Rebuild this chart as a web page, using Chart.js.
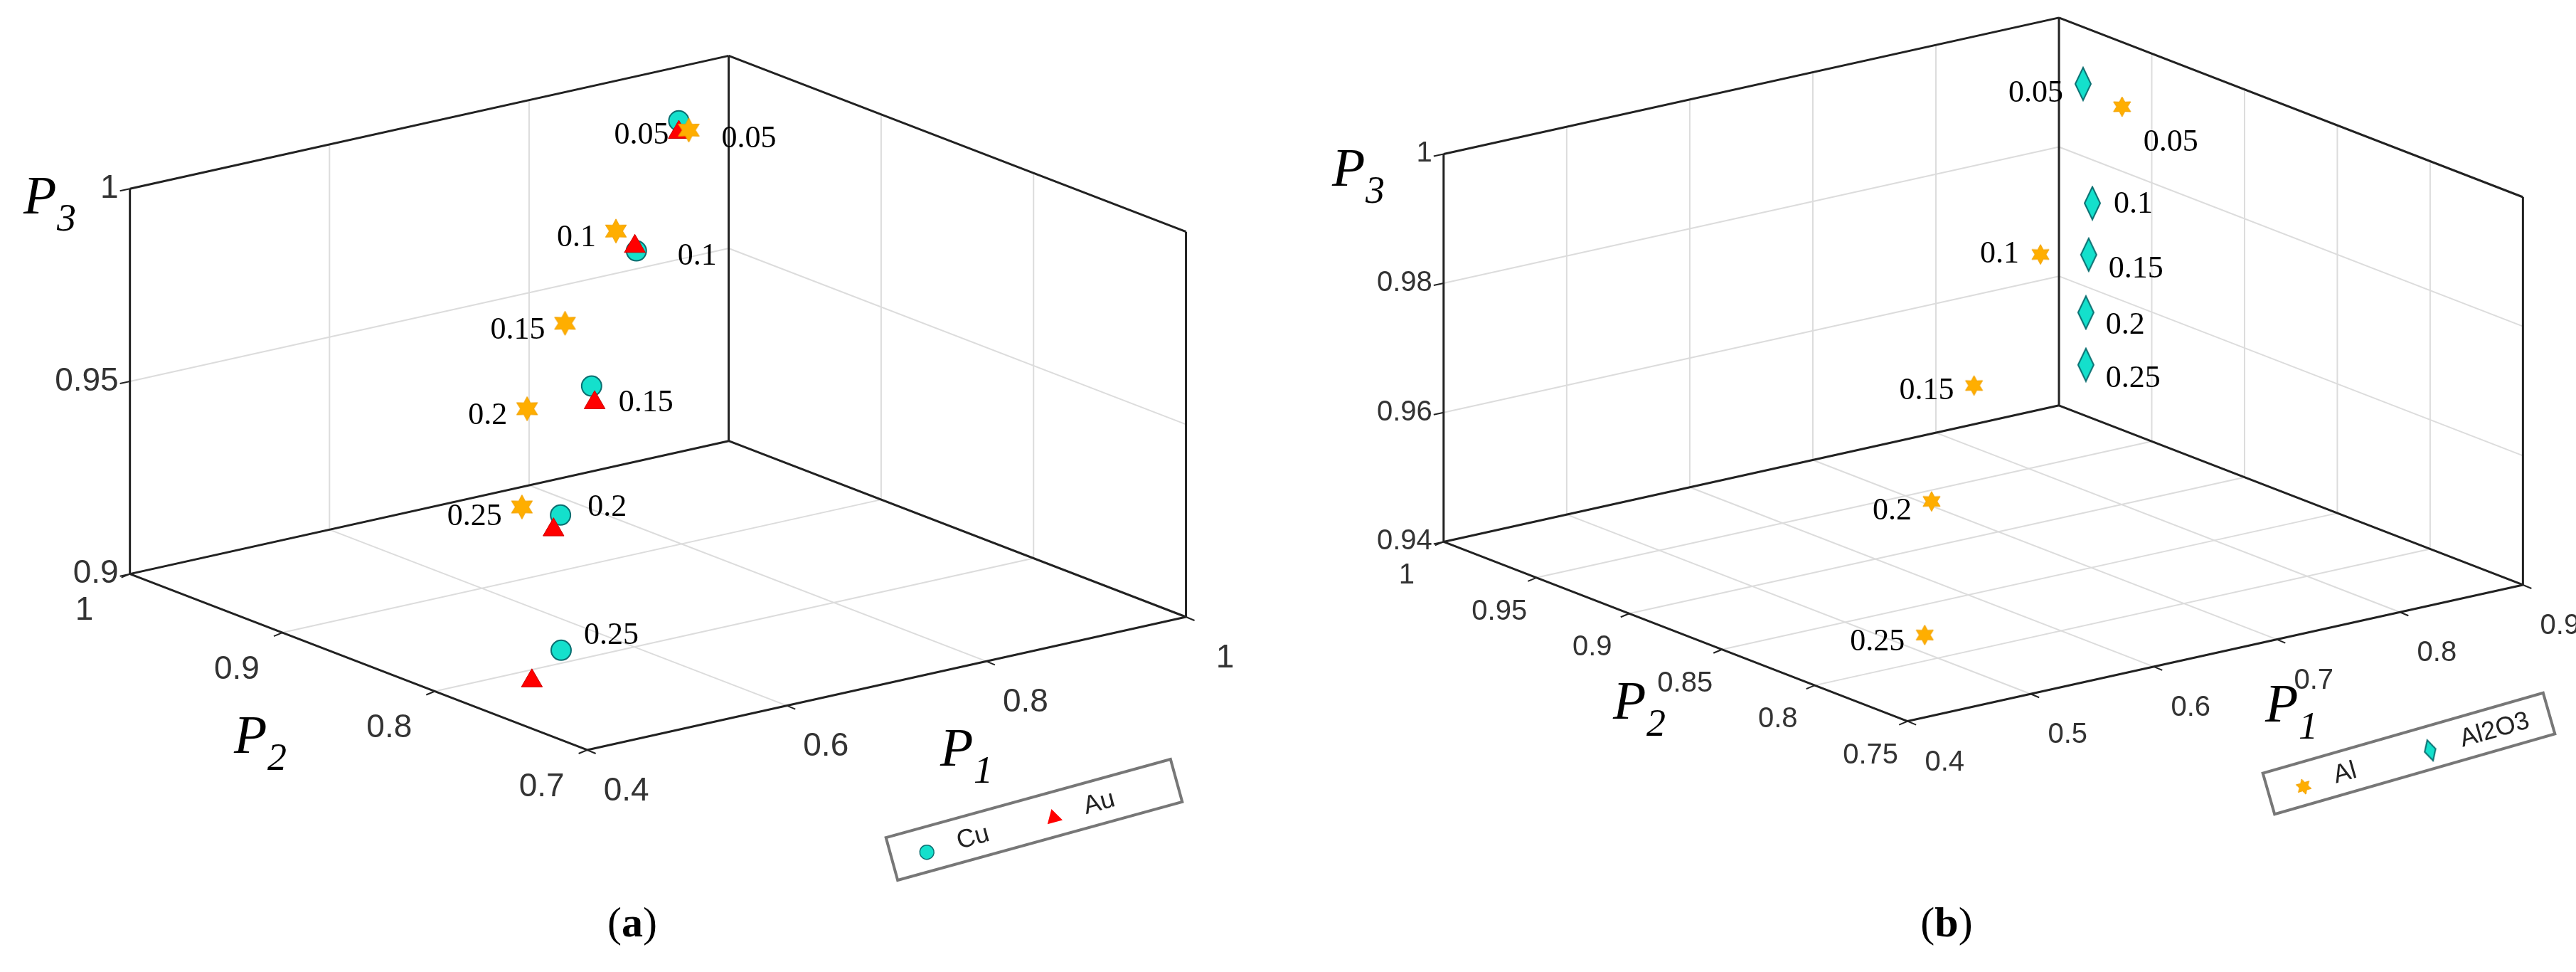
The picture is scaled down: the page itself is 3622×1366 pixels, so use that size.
<!DOCTYPE html>
<html><head><meta charset="utf-8">
<script src="https://cdn.jsdelivr.net/npm/chart.js@4"></script>
<style>html,body{margin:0;background:#fff;}#wrap{position:relative;width:3622px;height:1366px;}
canvas{position:absolute;top:0;}</style></head>
<body><div id="wrap"><canvas id="ca" width="1811" height="1366" style="left:0"></canvas><canvas id="cb" width="1811" height="1366" style="left:1811px"></canvas></div>
<script>
// ---- data: panel (a) ----
const phiLabels = ['0.05','0.1','0.15','0.2','0.25'];
const cuP1 = [0.95,0.88,0.80,0.72,0.548];
const cuP2 = [1.0,0.982,0.959,0.927,0.814];
const cuP3 = [0.986,0.959,0.932,0.908,0.900];
const auP1 = [0.95,0.88,0.80,0.742,0.479];
const auP2 = [1.0,0.983,0.957,0.946,0.788];
const auP3 = [0.983,0.960,0.928,0.900,0.900];
const stA_P1 = [0.96,0.887,0.836,0.798,0.747];
const stA_P2 = [1.0,1.0,1.0,1.0,0.97];
const stA_P3 = [0.983,0.961,0.940,0.920,0.902];
// ---- data: panel (b) ----
const alP1 = [0.9,0.885,0.831,0.706,0.524];
const alP2 = [0.966,1.0,1.0,0.940,0.823];
const alP3 = [0.990,0.964,0.946,0.940,0.940];
const aloP1 = [0.9,0.9,0.9,0.9,0.9];
const aloP2 = [0.987,0.982,0.984,0.9855,0.9855];
const aloP3 = [0.9912,0.9733,0.9651,0.956,0.9479];
// ticks
const aP1Ticks=[0.4,0.6,0.8,1], aP2Ticks=[0.7,0.8,0.9,1], aP3Ticks=[0.9,0.95,1];
const bP1Ticks=[0.4,0.5,0.6,0.7,0.8,0.9], bP2Ticks=[0.75,0.8,0.85,0.9,0.95,1], bP3Ticks=[0.94,0.96,0.98,1];

const geomA={O:[824,1064],r1:[0.4,1],r2:[0.7,1],r3:[0.9,1],v1:[859,-192],v2:[-656,-254],v3:[0,-556],
  p1o:[55,58],p2o:[-64,52],tickFont:'46px "Liberation Sans Narrow", "Liberation Sans"',
  t3:[58,280],t2:[354,1038],t1:[1347,1056],cap:[889,1300],capL:'a',
  leg:{c:[1454,1152],ang:-15.4,w:415,h:62,items:['Cu','Au']}};
const geomB={O:[2682-1811,1016],r1:[0.4,0.9],r2:[0.75,1],r3:[0.94,1],v1:[870,-193],v2:[-656,-254],v3:[0,-549],
  p1o:[52,58],p2o:[-52,48],tickFont:'40px "Liberation Sans Narrow", "Liberation Sans"',
  t3:[1898-1811,241],t2:[2293-1811,990],t1:[3210-1811,994],cap:[2737-1811,1300],capL:'b',
  leg:{c:[3387-1811,1059],ang:-16,w:410,h:60,items:['Al','Al2O3']}};

function proj(g,p1,p2,p3){
  const a=(p1-g.r1[0])/(g.r1[1]-g.r1[0]), b=(p2-g.r2[0])/(g.r2[1]-g.r2[0]), c=(p3-g.r3[0])/(g.r3[1]-g.r3[0]);
  return {x:g.O[0]+a*g.v1[0]+b*g.v2[0]+c*g.v3[0], y:g.O[1]+a*g.v1[1]+b*g.v2[1]+c*g.v3[1]};
}
function pts(g,A,B,C){return A.map((v,i)=>proj(g,v,B[i],C[i]));}

function starImg(r){const c=document.createElement('canvas');c.width=c.height=2*r+4;const x=c.getContext('2d');
  x.translate(r+2,r+2);x.beginPath();for(let i=0;i<12;i++){const rr=i%2?r*0.55:r;const an=-Math.PI/2+i*Math.PI/6;
  x.lineTo(rr*Math.cos(an),rr*Math.sin(an));}x.closePath();x.fillStyle='#ffae00';x.fill();x.strokeStyle='#f0a000';x.lineWidth=1;x.stroke();return c;}
function diamImg(w,h){const c=document.createElement('canvas');c.width=w+4;c.height=h+4;const x=c.getContext('2d');
  x.beginPath();x.moveTo(w/2+2,2);x.lineTo(w+2,h/2+2);x.lineTo(w/2+2,h+2);x.lineTo(2,h/2+2);x.closePath();
  x.fillStyle='#14e0cc';x.fill();x.strokeStyle='#0a6e70';x.lineWidth=2;x.stroke();return c;}
const starA=starImg(17), starB=starImg(14), diam=diamImg(22,46);

const box3d={id:'box3d',
 beforeDatasetsDraw(chart){
  const g=chart.options.plugins.box3d.g, ctx=chart.ctx, sx=chart.scales.x, sy=chart.scales.y;
  const P=(a,b,c)=>{const p=proj(g,a,b,c);return [sx.getPixelForValue(p.x),sy.getPixelForValue(p.y)];};
  const L=(p,q,col,w)=>{ctx.beginPath();ctx.moveTo(p[0],p[1]);ctx.lineTo(q[0],q[1]);ctx.strokeStyle=col;ctx.lineWidth=w;ctx.stroke();};
  const [a0,a1]=g.r1,[b0,b1]=g.r2,[c0,c1]=g.r3, t=g.ticks, grid='#dcdcdc';
  ctx.save();
  t.p1.forEach(v=>L(P(v,b0,c0),P(v,b1,c0),grid,2));
  t.p2.forEach(v=>L(P(a0,v,c0),P(a1,v,c0),grid,2));
  t.p1.forEach(v=>L(P(v,b1,c0),P(v,b1,c1),grid,2));
  t.p3.forEach(v=>L(P(a0,b1,v),P(a1,b1,v),grid,2));
  t.p2.forEach(v=>L(P(a1,v,c0),P(a1,v,c1),grid,2));
  t.p3.forEach(v=>L(P(a1,b0,v),P(a1,b1,v),grid,2));
  const k='#222';
  L(P(a0,b0,c0),P(a1,b0,c0),k,3);L(P(a0,b0,c0),P(a0,b1,c0),k,3);
  L(P(a0,b1,c0),P(a1,b1,c0),k,3);L(P(a1,b0,c0),P(a1,b1,c0),k,3);
  L(P(a0,b1,c0),P(a0,b1,c1),k,3);L(P(a1,b1,c0),P(a1,b1,c1),k,3);L(P(a1,b0,c0),P(a1,b0,c1),k,3);
  L(P(a0,b1,c1),P(a1,b1,c1),k,3);L(P(a1,b1,c1),P(a1,b0,c1),k,3);
  ctx.fillStyle='#333';ctx.font=g.tickFont;ctx.textBaseline='middle';
  ctx.textAlign='right';t.p3.forEach(v=>{const p=P(a0,b1,v);L(p,[p[0]-14,p[1]+3],k,2);ctx.fillText(String(v),p[0]-16,p[1]);});
  ctx.textAlign='center';
  t.p2.forEach(v=>{const p=P(a0,v,c0);L(p,[p[0]-12,p[1]+5],k,2);ctx.fillText(String(v),p[0]+g.p2o[0],p[1]+g.p2o[1]);});
  t.p1.forEach(v=>{const p=P(v,b0,c0);L(p,[p[0]+12,p[1]+5],k,2);ctx.fillText(String(v),p[0]+g.p1o[0],p[1]+g.p1o[1]);});
  ctx.fillStyle='#000';
  const title=(pos,sub)=>{ctx.textAlign='left';ctx.font='italic 76px "Liberation Serif"';ctx.fillText('P',pos[0]-25,pos[1]);
    ctx.font='italic 54px "Liberation Serif"';ctx.fillText(sub,pos[0]+22,pos[1]+30);};
  title(g.t3,'3');title(g.t2,'2');title(g.t1,'1');
  // caption "(a)"
  ctx.font='bold 60px "Liberation Serif"';const wl=ctx.measureText(g.capL).width;
  ctx.font='60px "Liberation Serif"';const wp=ctx.measureText('(').width;
  const x0=g.cap[0]-(wl+2*wp)/2;ctx.textAlign='left';
  ctx.fillText('(',x0,g.cap[1]);ctx.fillText(')',x0+wp+wl,g.cap[1]);
  ctx.font='bold 60px "Liberation Serif"';ctx.fillText(g.capL,x0+wp,g.cap[1]);
  ctx.restore();
 },
 afterDatasetsDraw(chart){
  const o=chart.options.plugins.box3d, g=o.g, ctx=chart.ctx, sx=chart.scales.x, sy=chart.scales.y;
  ctx.save();ctx.fillStyle='#000';ctx.font='44px "Liberation Serif"';ctx.textBaseline='middle';
  o.labels.forEach(s=>{s.pp.forEach((p,i)=>{const dx=Array.isArray(s.dx)?s.dx[i]:s.dx, dy=Array.isArray(s.dy)?s.dy[i]:s.dy;
    ctx.textAlign=Array.isArray(s.align)?s.align[i]:s.align;
    ctx.fillText(s.labels[i],sx.getPixelForValue(p.x)+dx,sy.getPixelForValue(p.y)+dy);});});
  const lg=g.leg;ctx.translate(lg.c[0],lg.c[1]);ctx.rotate(lg.ang*Math.PI/180);
  ctx.fillStyle='#fff';ctx.fillRect(-lg.w/2,-lg.h/2,lg.w,lg.h);ctx.strokeStyle='#777';ctx.lineWidth=4;ctx.strokeRect(-lg.w/2,-lg.h/2,lg.w,lg.h);
  ctx.font='36px "Liberation Sans"';ctx.textAlign='left';
  const ds=chart.data.datasets.filter(d=>d.inLegend);
  ds.forEach((d,i)=>{const x0=-lg.w/2+50+i*185;
    if(d.pointStyle==='circle'){ctx.beginPath();ctx.arc(x0,4,10,0,7);ctx.fillStyle=d.backgroundColor;ctx.fill();ctx.strokeStyle=d.borderColor;ctx.lineWidth=1.5;ctx.stroke();}
    else if(d.pointStyle==='triangle'){ctx.beginPath();ctx.moveTo(x0,-8);ctx.lineTo(x0+11,11);ctx.lineTo(x0-11,11);ctx.closePath();ctx.fillStyle='#ff0000';ctx.fill();}
    else {ctx.drawImage(d.legendImg,x0-d.legendImg.width/2,4-d.legendImg.height/2);}
    ctx.fillStyle='#222';ctx.fillText(d.label,x0+45,2);});
  ctx.restore();
 }};

function mk(id,g,ticks,datasets,labels){
  g.ticks=ticks;
  return new Chart(document.getElementById(id),{type:'scatter',data:{datasets},
   options:{responsive:false,animation:false,devicePixelRatio:1,layout:{padding:0},
    scales:{x:{type:'linear',display:false,min:0,max:1811},y:{type:'linear',display:false,min:0,max:1366,reverse:true}},
    plugins:{legend:{display:false},tooltip:{enabled:false},box3d:{g,labels}}},plugins:[box3d]});
}

const cuPts=pts(geomA,cuP1,cuP2,cuP3), auPts=pts(geomA,auP1,auP2,auP3), stPts=pts(geomA,stA_P1,stA_P2,stA_P3);
mk('ca',geomA,{p1:aP1Ticks,p2:aP2Ticks,p3:aP3Ticks},[
  {label:'Cu',data:cuPts,pointStyle:'circle',pointRadius:14,backgroundColor:'#14e0cc',borderColor:'#0a6e70',borderWidth:2,inLegend:true,order:3},
  {label:'Au',data:auPts,pointStyle:'triangle',pointRadius:17,backgroundColor:'#ff0000',borderColor:'#cc0000',borderWidth:1,inLegend:true,order:2},
  {label:'Ag',data:stPts,pointStyle:starA,order:1}
],
[ {pp:stPts,labels:phiLabels,dx:-28,dy:[8,10,10,10,14],align:'right'},
  {pp:cuPts,labels:phiLabels,dx:[60,58,38,38,32],dy:[26,8,24,-10,-20],align:'left'} ]);

const alPts=pts(geomB,alP1,alP2,alP3), aloPts=pts(geomB,aloP1,aloP2,aloP3);
mk('cb',geomB,{p1:bP1Ticks,p2:bP2Ticks,p3:bP3Ticks},[
  {label:'Al',data:alPts,pointStyle:starB,inLegend:true,legendImg:starImg(11)},
  {label:'Al2O3',data:aloPts,pointStyle:diam,inLegend:true,legendImg:diamImg(16,30)}
],
[ {pp:alPts,labels:phiLabels,dx:[30,-30,-28,-28,-28],dy:[50,0,8,14,10],align:['left','right','right','right','right']},
  {pp:aloPts,labels:phiLabels,dx:[-28,30,28,28,28],dy:[14,2,20,18,20],align:['right','left','left','left','left']} ]);
</script></body></html>
